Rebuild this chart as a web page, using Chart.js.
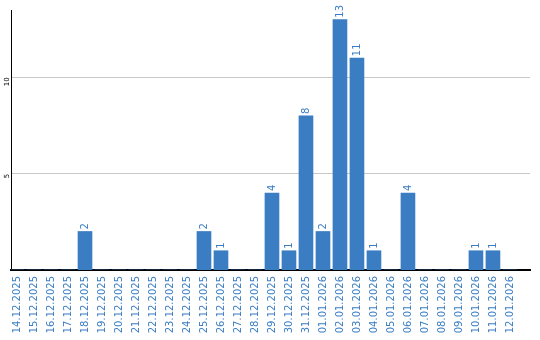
<!DOCTYPE html>
<html><head><meta charset="utf-8">
<script src="https://cdn.jsdelivr.net/npm/chart.js@4/dist/chart.umd.min.js"></script>
<style>html,body{margin:0;padding:0;background:#fff}#w{width:540px;height:340px}</style>
</head><body><div id="w"><canvas id="c" width="540" height="340"></canvas></div>
<script>
const categories = ["14.12.2025","15.12.2025","16.12.2025","17.12.2025","18.12.2025","19.12.2025","20.12.2025","21.12.2025","22.12.2025","23.12.2025","24.12.2025","25.12.2025","26.12.2025","27.12.2025","28.12.2025","29.12.2025","30.12.2025","31.12.2025","01.01.2026","02.01.2026","03.01.2026","04.01.2026","05.01.2026","06.01.2026","07.01.2026","08.01.2026","09.01.2026","10.01.2026","11.01.2026","12.01.2026"];
const counts = [0,0,0,0,2,0,0,0,0,0,0,2,1,0,0,4,1,8,2,13,11,1,0,4,0,0,0,1,1,0];
const yTicks = [5,10];

const BLUE = '#3a7dc2';
const labelPlugin = {
  id: 'vals',
  afterDatasetsDraw(chart) {
    const ctx = chart.ctx;
    const meta = chart.getDatasetMeta(0);
    ctx.save();
    ctx.fillStyle = BLUE;
    ctx.font = '10px "DejaVu Sans"';
    ctx.textAlign = 'left';
    ctx.textBaseline = 'middle';
    meta.data.forEach((bar, i) => {
      if (!counts[i]) return;
      ctx.save();
      ctx.translate(bar.x, bar.y - 2);
      ctx.rotate(-Math.PI / 2);
      ctx.fillText(String(counts[i]), 0, 0);
      ctx.restore();
    });
    ctx.restore();
  }
};

new Chart(document.getElementById('c'), {
  type: 'bar',
  data: {
    datasets: [{
      data: counts.map((v, i) => ({x: i, y: v})),
      backgroundColor: BLUE,
      barThickness: 14
    }]
  },
  options: {
    responsive: false,
    animation: false,
    layout: {padding: {top: 10, right: 10, left: 0, bottom: 0}},
    plugins: {legend: {display: false}, tooltip: {enabled: false}},
    scales: {
      x: {
        type: 'linear',
        offset: false,
        min: -0.353,
        max: 30.18,
        afterBuildTicks(s) { s.ticks = categories.map((_, i) => ({value: i})); },
        afterFit(s) { s.height = 70; },
        grid: {display: false, drawTicks: false, offset: false},
        border: {display: true, color: '#000', width: 2},
        ticks: {
          autoSkip: false,
          minRotation: 90, maxRotation: 90,
          padding: 6,
          color: BLUE,
          font: {family: 'DejaVu Sans', size: 10},
          callback: (v) => categories[v]
        }
      },
      y: {
        min: 0,
        max: 13.5,
        afterBuildTicks(s) { s.ticks = yTicks.map(v => ({value: v})); },
        afterFit(s) { s.width = 11; },
        grid: {color: '#c8c8c8', lineWidth: 1, drawTicks: false},
        border: {display: true, color: '#000', width: 1},
        ticks: {
          minRotation: 90, maxRotation: 90,
          padding: 4,
          color: '#000',
          font: {family: 'DejaVu Sans', size: 7}
        }
      }
    }
  },
  plugins: [labelPlugin]
});
</script>
</body></html>
